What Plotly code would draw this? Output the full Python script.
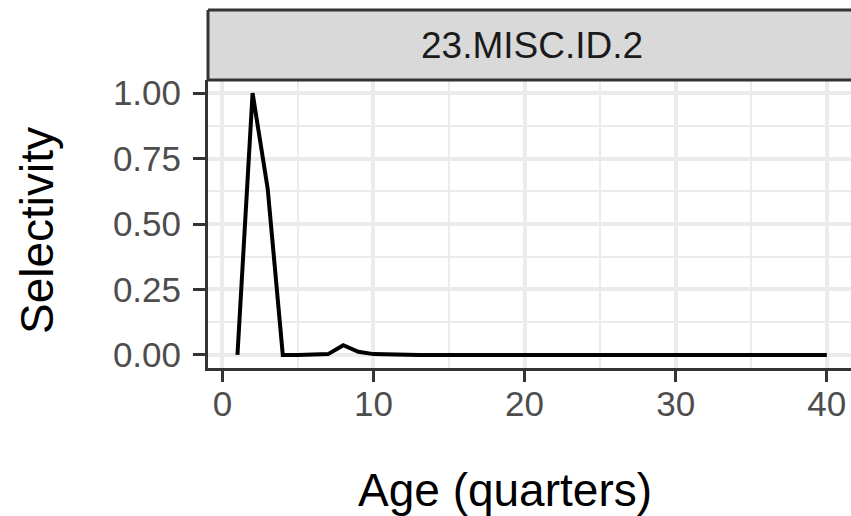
import plotly.graph_objects as go

# Selectivity-at-age curve for fleet 23.MISC.ID.2
age = list(range(1, 41))
selectivity = [0.0, 1.0, 0.635, 0.0, 0.0, 0.0005, 0.003, 0.037, 0.012, 0.003,
               0.001] + [0.0] * 29
facet_label = "23.MISC.ID.2"
x_ticks = [0, 10, 20, 30, 40]
x_minor = [5, 15, 25, 35]
y_ticks = [0.0, 0.25, 0.5, 0.75, 1.0]
y_minor = [0.125, 0.375, 0.625, 0.875]

FONT = "Liberation Sans, Arial, sans-serif"
DARK = "#333333"
GRID = "#EBEBEB"
LW = 3.0

fig = go.Figure()
fig.add_trace(go.Scatter(
    x=age, y=selectivity, mode="lines",
    line=dict(color="black", width=4),
    hoverinfo="skip", showlegend=False,
))

axis_common = dict(
    showgrid=True, gridcolor=GRID, gridwidth=3.6,
    zeroline=False, showline=True, linecolor=DARK, linewidth=LW,
    ticks="outside", tickcolor=DARK, tickwidth=LW,
    tickfont=dict(family=FONT, size=35, color="#4D4D4D"),
)

fig.update_xaxes(
    **axis_common,
    range=[-0.95, 41.6], tickvals=x_ticks, ticklen=11,
    ticklabelstandoff=-8,
    minor=dict(tickvals=x_minor, ticks="", showgrid=True, gridcolor=GRID, gridwidth=2.2),
)
fig.update_yaxes(
    **axis_common,
    range=[-0.05, 1.05], tickvals=y_ticks, tickformat=".2f", ticklen=12,
    ticklabelstandoff=5,
    minor=dict(tickvals=y_minor, ticks="", showgrid=True, gridcolor=GRID, gridwidth=2.2),
)

# facet strip above the panel (open on the right, where the panel runs off the page)
strip_top = 1.0 + 70 / 288
fig.add_shape(
    type="rect", xref="paper", yref="paper",
    x0=0, x1=1.1, y0=1.0, y1=strip_top,
    fillcolor="#D9D9D9", line=dict(width=0), layer="above",
)
for y in (1.0, strip_top):
    fig.add_shape(type="line", xref="paper", yref="paper", x0=0, x1=1.1, y0=y, y1=y,
                  line=dict(color=DARK, width=LW), layer="above")
fig.add_shape(type="line", xref="paper", yref="paper", x0=0, x1=0, y0=1.0, y1=strip_top,
              line=dict(color=DARK, width=LW), layer="above")
fig.add_annotation(
    text=facet_label, xref="paper", yref="paper", x=(532 - 208) / 643, y=1.0 + 35 / 288,
    showarrow=False, xanchor="center", yanchor="middle",
    font=dict(family=FONT, size=37, color="#1A1A1A"),
)

# axis titles
fig.add_annotation(
    text="Age (quarters)", xref="paper", yref="paper", x=(505 - 208) / 643, y=0,
    yshift=-(490 - 368), showarrow=False, xanchor="center", yanchor="middle",
    font=dict(family=FONT, size=46, color="black"),
)
fig.add_annotation(
    text="Selectivity", xref="paper", yref="paper", x=0, xshift=-(208 - 37), y=0.5,
    yshift=-7, showarrow=False, xanchor="center", yanchor="middle", textangle=-90,
    font=dict(family=FONT, size=46, color="black"),
)

fig.update_layout(
    width=851, height=516,
    margin=dict(l=208, r=0, t=80, b=148),
    plot_bgcolor="white", paper_bgcolor="white",
)

fig.write_html("out.html")
